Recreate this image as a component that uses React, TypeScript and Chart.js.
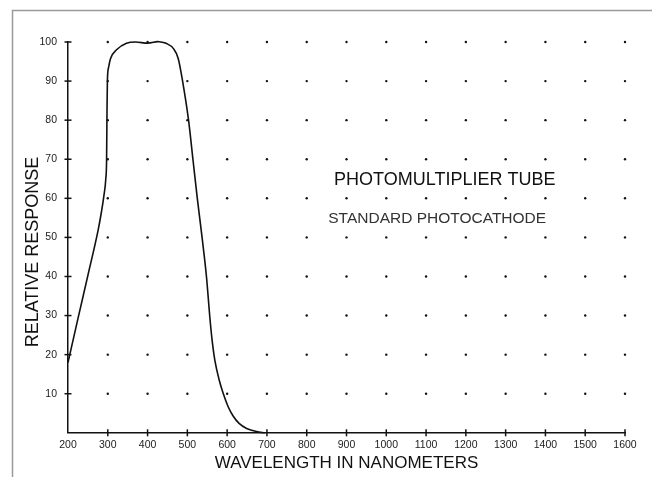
import React, { useEffect, useRef } from "react";
import { Chart, registerables } from "chart.js";
Chart.register(...registerables);

// Curve: wavelength (nm) vs relative response (%)
const wavelengths = [200, 225, 250, 276, 284, 290, 295, 297, 298, 299, 302, 307, 322, 347, 370, 400, 425, 448, 465, 477, 488, 503, 514, 525, 537, 548, 557, 563, 569, 580, 590, 602, 615, 630, 649, 674, 695];
const response = [18, 29.2, 40.3, 52, 56.5, 60.5, 65, 70, 82, 90, 93.5, 95.8, 98, 99.7, 100, 99.7, 100.1, 99.6, 98.3, 95.8, 90, 80, 70, 60, 50, 40, 29, 23, 18.6, 13.5, 10.1, 6.8, 4.3, 2.4, 1.1, 0.3, 0];

// Axis ticks
const xTicks = [200, 300, 400, 500, 600, 700, 800, 900, 1000, 1100, 1200, 1300, 1400, 1500, 1600];
const yTicks = [10, 20, 30, 40, 50, 60, 70, 80, 90, 100];

const xTitle = "WAVELENGTH IN NANOMETERS";
const yTitle = "RELATIVE RESPONSE";
const annoTitle = "PHOTOMULTIPLIER TUBE";
const annoSub = "STANDARD PHOTOCATHODE";
const annoTitlePos = [1147, 64.6];
const annoSubPos = [1128, 54.9];

const FONT = "'Liberation Sans', Arial, Helvetica, sans-serif";

export default function App() {
  const ref = useRef<HTMLCanvasElement | null>(null);

  useEffect(() => {
    const canvas = ref.current;
    if (!canvas) return;

    const curve = wavelengths.map((x, i) => ({ x, y: response[i] }));
    const dots: { x: number; y: number }[] = [];
    xTicks.filter((x) => x > 200).forEach((x) => yTicks.forEach((y) => dots.push({ x, y })));
    const yMarks = yTicks.map((y) => ({ x: 200, y }));
    const xMarks = xTicks.filter((x) => x > 200).map((x) => ({ x, y: 0 }));

    const framePlugin = {
      id: "frame",
      beforeDraw(chart: any) {
        const c = chart.ctx;
        c.save();
        c.fillStyle = "#fff";
        c.fillRect(0, 0, chart.width, chart.height);
        c.strokeStyle = "#9a9a9a";
        c.lineWidth = 1.5;
        c.beginPath();
        c.moveTo(12.5, chart.height);
        c.lineTo(12.5, 10.5);
        c.lineTo(chart.width, 10.5);
        c.stroke();
        c.restore();
      },
      afterDraw(chart: any) {
        const c = chart.ctx;
        const xs = chart.scales.x;
        const ys = chart.scales.y;
        c.save();
        c.fillStyle = "#111";
        c.textAlign = "center";
        c.textBaseline = "middle";
        c.font = `18px ${FONT}`;
        c.fillText(annoTitle, xs.getPixelForValue(annoTitlePos[0]), ys.getPixelForValue(annoTitlePos[1]));
        c.fillStyle = "#333";
        c.font = `15.5px ${FONT}`;
        c.fillText(annoSub, xs.getPixelForValue(annoSubPos[0]), ys.getPixelForValue(annoSubPos[1]));
        // y axis title
        c.fillStyle = "#111";
        c.font = `18px ${FONT}`;
        c.translate(33, 252);
        c.rotate(-Math.PI / 2);
        c.fillText(yTitle, 0, 0);
        c.restore();
      },
    };

    const chart = new Chart(canvas, {
      type: "scatter",
      data: {
        datasets: [
          {
            data: curve,
            showLine: true,
            borderColor: "#111",
            borderWidth: 1.6,
            pointRadius: 0,
            cubicInterpolationMode: "monotone",
            clip: false,
          } as any,
          {
            data: dots,
            pointRadius: 1.2,
            pointBackgroundColor: "#111",
            pointBorderWidth: 0,
            clip: false,
          } as any,
          {
            data: yMarks,
            pointStyle: "line",
            pointRadius: 3.5,
            pointBorderColor: "#111",
            pointBorderWidth: 1.5,
            clip: false,
          } as any,
          {
            data: xMarks,
            pointStyle: "line",
            rotation: 90,
            pointRadius: 3.5,
            pointBorderColor: "#111",
            pointBorderWidth: 1.5,
            pointRotation: 90,
            clip: false,
          } as any,
        ],
      },
      options: {
        responsive: false,
        animation: false,
        devicePixelRatio: 1,
        events: [],
        layout: { padding: { left: 0, top: 42, right: 27, bottom: 0 } },
        plugins: { legend: { display: false }, tooltip: { enabled: false } },
        scales: {
          x: {
            type: "linear",
            min: 200,
            max: 1600,
            afterBuildTicks: (s: any) => {
              s.ticks = xTicks.map((v) => ({ value: v }));
            },
            afterFit: (s: any) => {
              s.height = 44.2;
            },
            grid: { display: false, drawTicks: false },
            border: { display: true, color: "#111", width: 1.5 },
            ticks: {
              padding: 6,
              color: "#222",
              font: { family: FONT, size: 10.5 },
              maxRotation: 0,
              autoSkip: false,
              callback: (v: any) => String(v),
            },
            title: {
              display: true,
              text: xTitle,
              color: "#111",
              font: { family: FONT, size: 17 },
              padding: { top: 0, bottom: 3 },
            },
          },
          y: {
            type: "linear",
            min: 0,
            max: 100,
            afterBuildTicks: (s: any) => {
              s.ticks = yTicks.map((v) => ({ value: v }));
            },
            afterFit: (s: any) => {
              s.width = 68;
            },
            grid: { display: false, drawTicks: false },
            border: { display: true, color: "#111", width: 1.5 },
            ticks: {
              padding: 11,
              color: "#222",
              font: { family: FONT, size: 10.5 },
              autoSkip: false,
              callback: (v: any) => String(v),
            },
          },
        },
      } as any,
      plugins: [framePlugin],
    });

    return () => chart.destroy();
  }, []);

  return (
    <div style={{ position: "fixed", left: 0, top: 0, width: 652, height: 477, background: "#fff" }}>
      <canvas ref={ref} width={652} height={477} style={{ display: "block", width: 652, height: 477 }} />
    </div>
  );
}
